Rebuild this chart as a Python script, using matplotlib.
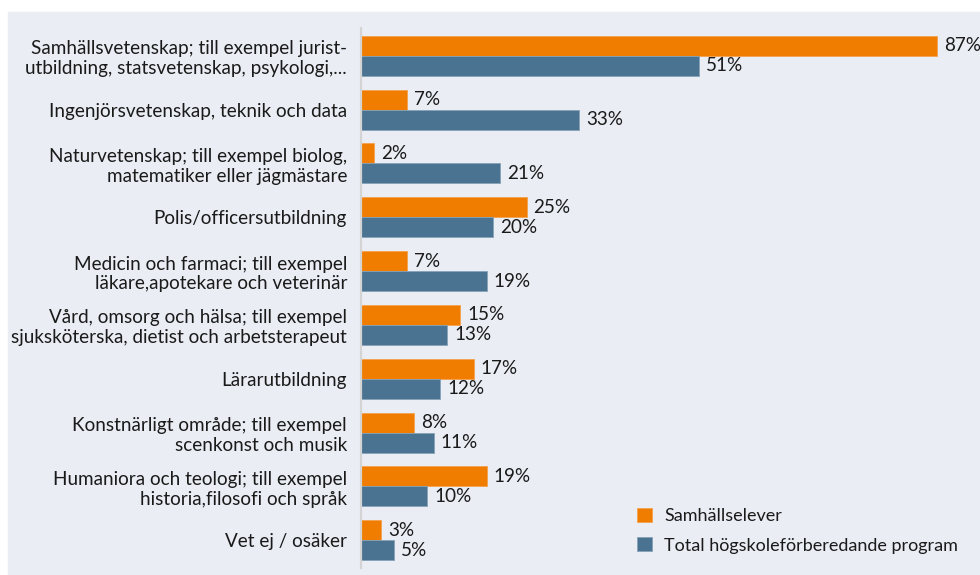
import numpy as np
import matplotlib.pyplot as plt
from matplotlib.patches import Rectangle

# data
categories = [
    'Samhällsvetenskap; till exempel jurist-\nutbildning, statsvetenskap, psykologi,...',
    'Ingenjörsvetenskap, teknik och data',
    'Naturvetenskap; till exempel biolog,\nmatematiker eller jägmästare',
    'Polis/officersutbildning',
    'Medicin och farmaci; till exempel\nläkare,apotekare och veterinär',
    'Vård, omsorg och hälsa; till exempel\nsjuksköterska, dietist och arbetsterapeut',
    'Lärarutbildning',
    'Konstnärligt område; till exempel\nscenkonst och musik',
    'Humaniora och teologi; till exempel\nhistoria,filosofi och språk',
    'Vet ej / osäker',
]
samhallselever = [87, 7, 2, 25, 7, 15, 17, 8, 19, 3]
total_program = [51, 33, 21, 20, 19, 13, 12, 11, 10, 5]
series_names = ['Samhällselever', 'Total högskoleförberedande program']

orange = '#f07d00'
blue = '#4a7291'
bg = '#eaedf4'
txt = '#1a1a1a'

plt.rcParams['font.family'] = ['Lato', 'DejaVu Sans']
fs = 13.6

fig = plt.figure(figsize=(9.8, 5.75), dpi=100)
# grey panel behind the chart
fig.patches.append(Rectangle((8 / 980, 0), 972 / 980, 563 / 575,
                             transform=fig.transFigure, color=bg, zorder=-5))

ax = fig.add_axes([361 / 980, 7 / 575, 619 / 980, 540 / 575])
ax.set_facecolor('none')

y = np.arange(len(categories))
h = 0.3714
b1 = ax.barh(y - h / 2, samhallselever, height=h, color=orange,
             edgecolor='#f5a04d', linewidth=0.6)
b2 = ax.barh(y + h / 2, total_program, height=h, color=blue,
             edgecolor='#86a2b8', linewidth=0.6)

ax.bar_label(b1, labels=[f'{v}%' for v in samhallselever], padding=5,
             fontsize=fs, color=txt)
ax.bar_label(b2, labels=[f'{v}%' for v in total_program], padding=5,
             fontsize=fs, color=txt)

ax.set_xlim(0, 93.5)
ax.set_ylim(9.514, -0.514)
ax.set_yticks(y)
ax.set_yticklabels(categories, fontsize=fs, color=txt, linespacing=1.2)
ax.tick_params(axis='y', length=0, pad=10)
ax.set_xticks([])
for s in ['top', 'right', 'bottom']:
    ax.spines[s].set_visible(False)
ax.spines['left'].set_color('#d4d4d4')
ax.spines['left'].set_linewidth(1.6)

fig.legend(handles=[b1, b2], labels=series_names, loc='upper left',
           bbox_to_anchor=(637 / 980, 1 - 508 / 575), frameon=False,
           fontsize=13, handlelength=0.85, handleheight=0.85,
           handletextpad=0.65, labelspacing=0.7, borderpad=0,
           borderaxespad=0, labelcolor=txt)

fig.savefig('out.png', dpi=100)
